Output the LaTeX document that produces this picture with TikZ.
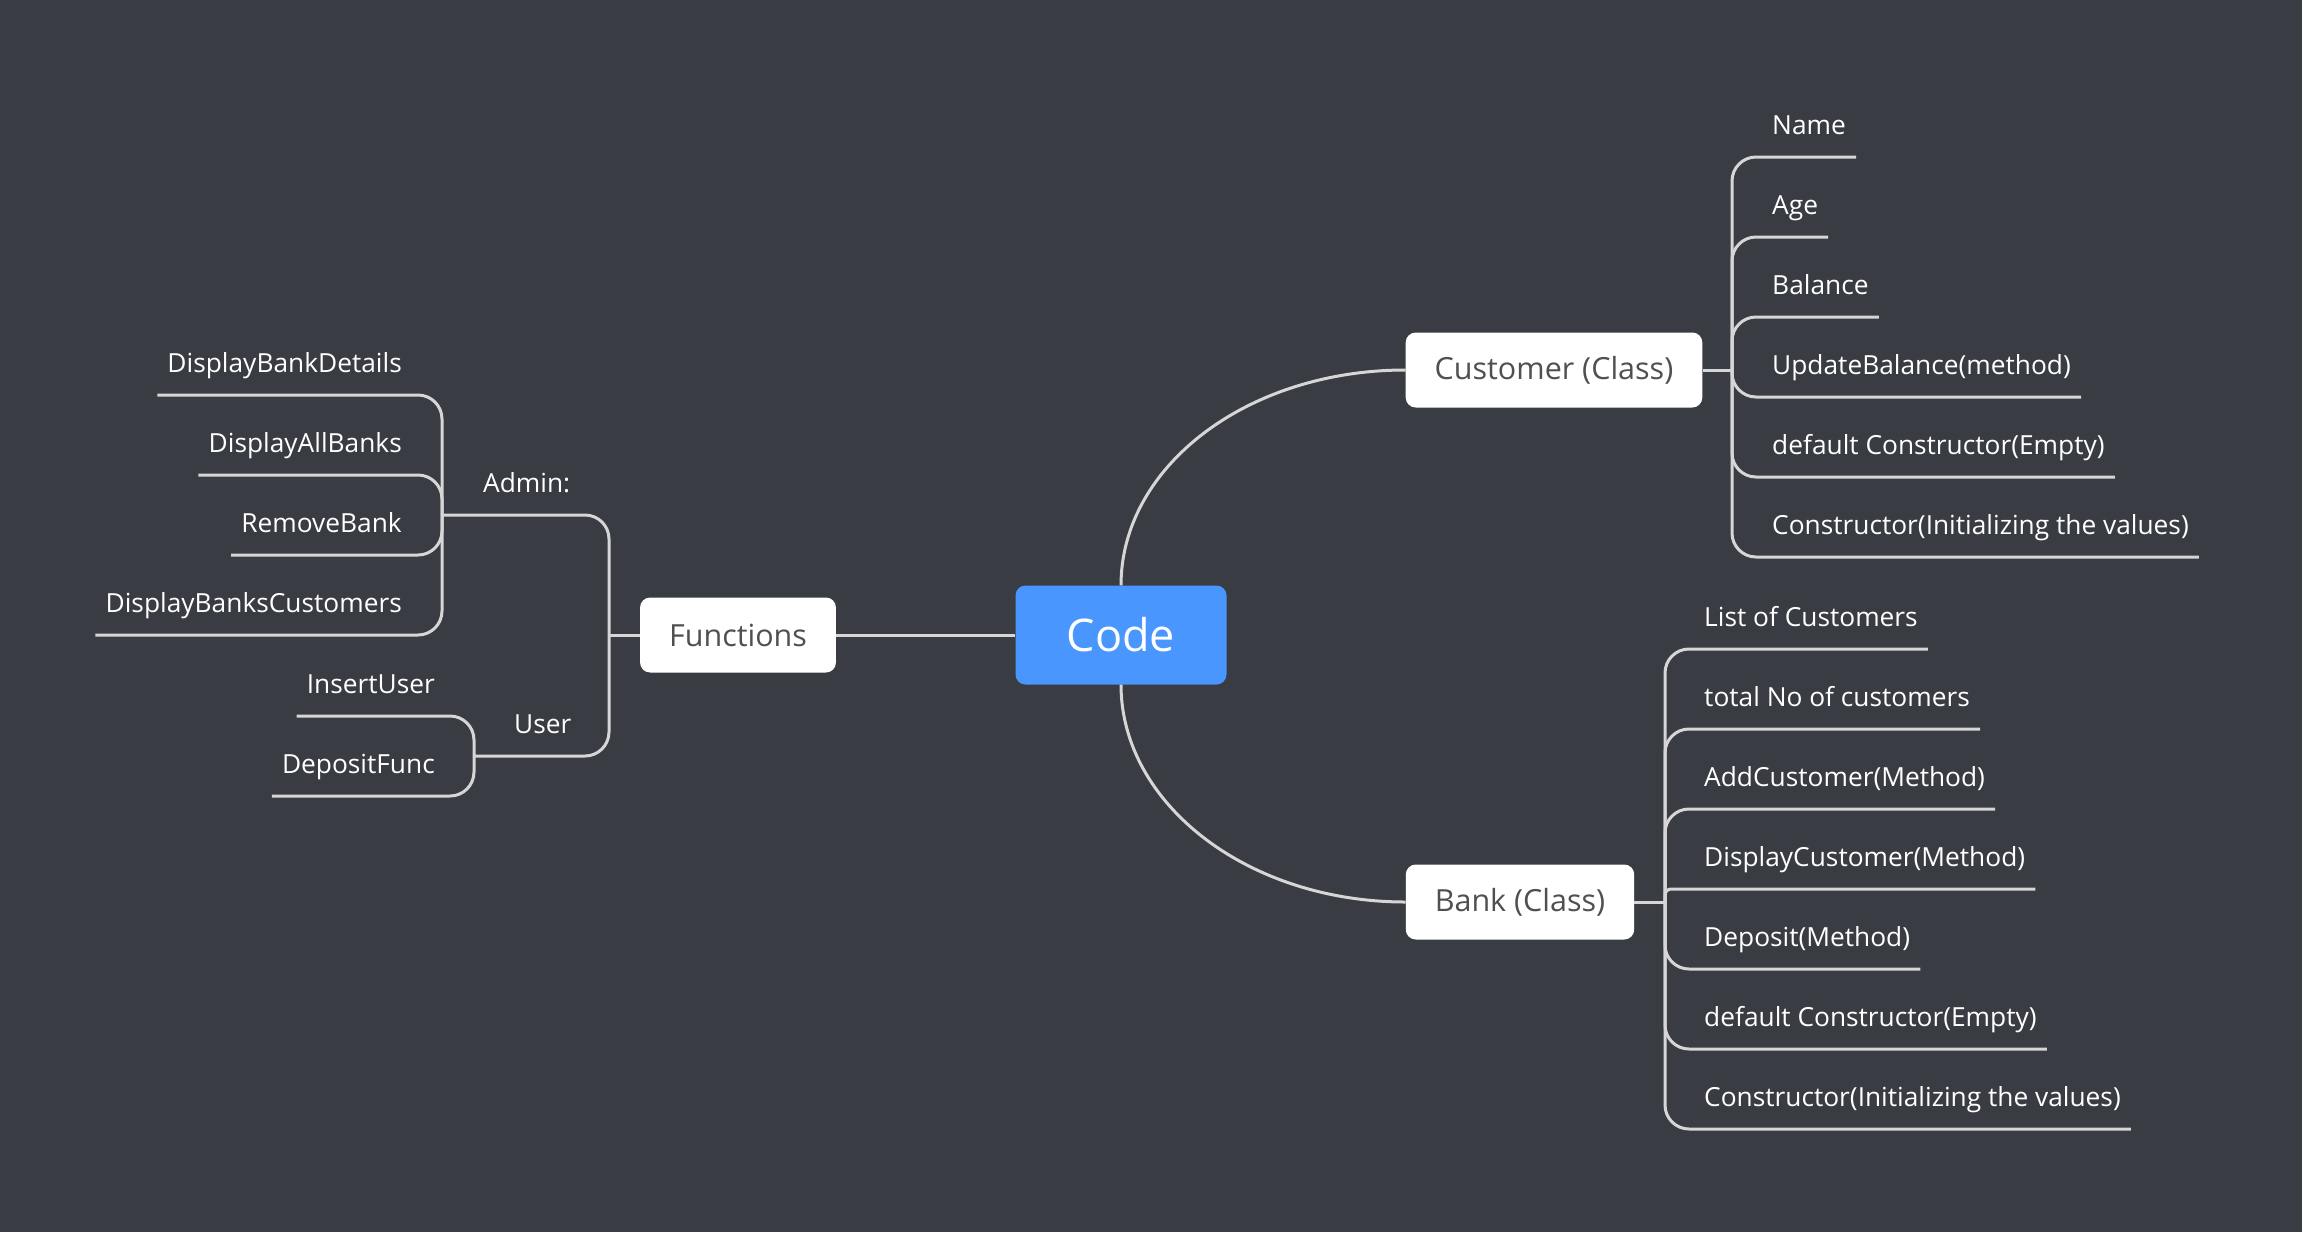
\documentclass[tikz,border=0pt]{standalone}
\usepackage{fontspec}
\setmainfont{Open Sans}
\definecolor{bgcol}{HTML}{393C42}
\definecolor{linecol}{HTML}{D6D6D6}
\definecolor{codeblue}{HTML}{4A96FF}
\definecolor{boxtext}{HTML}{505050}

\begin{document}
\begin{tikzpicture}[x=1pt,y=-1pt,
    wire/.style={draw=linecol,line width=3pt},
    branch/.style={wire,rounded corners=24pt},
    root/.style={fill=codeblue,text=white,rounded corners=10pt,minimum width=211pt,minimum height=99pt,font=\fontsize{45}{52}\selectfont},
    cls/.style={fill=white,text=boxtext,rounded corners=10pt,inner xsep=29pt,minimum height=75pt,font=\fontsize{30.5}{36}\selectfont},
    leaf/.style={text=white,inner xsep=10pt,inner ysep=16pt,text height=19pt,text depth=6pt,font=\fontsize{26.3}{30}\selectfont}]

    \fill[bgcol] (0,0) rectangle (2302,1232);

    \node[root] (code) at (1121,635) {Code};
    \node[cls] (cust) at (1554,370) {Customer (Class)};
    \node[cls] (bank) at (1520,902) {Bank (Class)};
    \node[cls] (func) at (738,635) {Functions};

    \draw[wire] (code.north) .. controls +(0,-119) and +(-158,0) .. (cust.west);
    \draw[wire] (code.south) .. controls +(0,119) and +(-158,0) .. (bank.west);
    \draw[wire] (code.west) -- (func.east);

    % Customer
    \coordinate (ctrunk) at (1732,370);
    \draw[wire] (cust.east) -- (ctrunk);
    \foreach \t [count=\i] in {Name,Age,Balance,UpdateBalance(method),default Constructor(Empty),Constructor(Initializing the values)} {
        \node[leaf,anchor=south west] (c\i) at (1762,77+80*\i) {\t};
        \draw[branch] (ctrunk) |- (c\i.south east);
    }

    % Bank
    \coordinate (btrunk) at (1665,902);
    \draw[wire] (bank.east) -- (btrunk);
    \foreach \t/\r [count=\i] in {List of Customers/24,total No of customers/24,AddCustomer(Method)/24,DisplayCustomer(Method)/6,Deposit(Method)/24,default Constructor(Empty)/24,Constructor(Initializing the values)/24} {
        \node[leaf,anchor=south west] (b\i) at (1694,569+80*\i) {\t};
        \draw[wire,rounded corners=\r pt] (btrunk) |- (b\i.south east);
    }

    % Functions
    \coordinate (ftrunk) at (609,635);
    \coordinate (adminhub) at (442,515);
    \coordinate (userhub) at (474,756);
    \draw[wire] (func.west) -- (ftrunk);
    \draw[branch] (ftrunk) |- (adminhub);
    \draw[branch] (ftrunk) |- (userhub);
    \node[leaf,anchor=south west] (admin) at (473,515) {Admin:};
    \node[leaf,anchor=south west] (user) at (504,756) {User};

    \foreach \t [count=\i] in {DisplayBankDetails,DisplayAllBanks,RemoveBank,DisplayBanksCustomers} {
        \node[leaf,anchor=south east] (a\i) at (412,315+80*\i) {\t};
        \draw[branch] (adminhub) |- (a\i.south west);
    }
    \foreach \t [count=\i] in {InsertUser,DepositFunc} {
        \node[leaf,anchor=south east] (u\i) at (445,636+80*\i) {\t};
        \draw[branch] (userhub) |- (u\i.south west);
    }
\end{tikzpicture}
\end{document}
